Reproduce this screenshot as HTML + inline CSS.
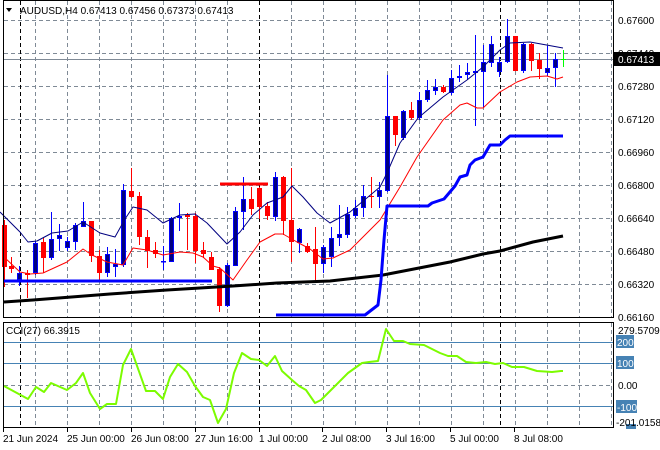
<!DOCTYPE html>
<html><head><meta charset="utf-8"><style>
html,body{margin:0;padding:0;background:#fff;}
svg{display:block;font-family:"Liberation Sans",sans-serif;}
</style></head><body>
<svg id="s" width="660" height="450" xmlns="http://www.w3.org/2000/svg">
<rect width="660" height="450" fill="#fff"/>
<g id="grid"></g>
<g id="cand"></g>
<g id="lines"></g>
<rect x="3.5" y="0.5" width="610" height="317" fill="none" stroke="#000"/>
<rect x="3.5" y="322.5" width="610" height="105" fill="none" stroke="#000"/>
<text x="20" y="14" font-size="10" fill="#000">AUDUSD,H4  0.67413 0.67456 0.67373 0.67413</text>
<polygon points="6,8 12,8 9,12" fill="#000"/>
<g font-size="10" fill="#000">
<text x="618" y="24">0.67600</text>
<text x="618" y="57">0.67440</text>
<text x="618" y="90">0.67280</text>
<text x="618" y="123">0.67120</text>
<text x="618" y="156">0.66960</text>
<text x="618" y="189">0.66800</text>
<text x="618" y="222">0.66640</text>
<text x="618" y="255">0.66480</text>
<text x="618" y="288">0.66320</text>
<text x="618" y="321">0.66160</text>
</g>
<rect x="614" y="52" width="46" height="14" fill="#000"/>
<text x="618" y="63" font-size="10" fill="#fff">0.67413</text>
<text x="6" y="334" font-size="10" fill="#000">CCI(27) 66.3915</text>
<g font-size="10">
<text x="618" y="334" fill="#000">279.5709</text>
<rect x="616" y="335" width="18" height="13" fill="#4682b4"/><text x="617" y="346" fill="#fff">200</text>
<rect x="616" y="356" width="18" height="13" fill="#4682b4"/><text x="617" y="367" fill="#fff">100</text>
<text x="618" y="389" fill="#000">0.00</text>
<rect x="616" y="400" width="21" height="13" fill="#4682b4"/><text x="617" y="411" fill="#fff">-100</text>
<rect x="626" y="424" width="10" height="5" fill="#4682b4"/>
<text x="616" y="426" fill="#000">-201.0158</text>
</g>
<g font-size="10" fill="#000">
<text x="3" y="442">21 Jun 2024</text>
<text x="67" y="442">25 Jun 00:00</text>
<text x="131" y="442">26 Jun 08:00</text>
<text x="195" y="442">27 Jun 16:00</text>
<text x="259" y="442">1 Jul 00:00</text>
<text x="322" y="442">2 Jul 08:00</text>
<text x="386" y="442">3 Jul 16:00</text>
<text x="450" y="442">5 Jul 00:00</text>
<text x="514" y="442">8 Jul 08:00</text>
</g>
</svg>
<script>
var NS="http://www.w3.org/2000/svg";
function el(p,t,a){var e=document.createElementNS(NS,t);for(var k in a)e.setAttribute(k,a[k]);document.getElementById(p).appendChild(e);return e;}
var hy=[20,53,86,119,152,185,218,251,284,317];
hy.forEach(function(y){el("grid","line",{x1:4,x2:613,y1:y+.5,y2:y+.5,stroke:"#7f8a96","stroke-dasharray":"4,3"});});
[342,363,406].forEach(function(y){el("grid","line",{x1:4,x2:613,y1:y+.5,y2:y+.5,stroke:"#4682b4"});});
el("grid","line",{x1:4,x2:613,y1:385.5,y2:385.5,stroke:"#7f8a96","stroke-dasharray":"4,3"});
for(var x=35;x<613;x+=32){
 if(x==259||x==499) continue;
 el("grid","line",{x1:x+.5,x2:x+.5,y1:1,y2:317,stroke:"#7f8a96","stroke-dasharray":"4,3"});
 el("grid","line",{x1:x+.5,x2:x+.5,y1:323,y2:428,stroke:"#7f8a96","stroke-dasharray":"4,3"});
}
[20,259,500].forEach(function(x){
 el("grid","line",{x1:x+.5,x2:x+.5,y1:1,y2:317,stroke:"#000","stroke-dasharray":"4,3"});
 el("grid","line",{x1:x+.5,x2:x+.5,y1:323,y2:428,stroke:"#000","stroke-dasharray":"4,3"});
});
el("grid","line",{x1:4,x2:613,y1:59.5,y2:59.5,stroke:"#7f8a96"});
[3,67,131,195,259,322,386,450,514].forEach(function(x){el("grid","line",{x1:x+.5,x2:x+.5,y1:428,y2:432,stroke:"#000"});});
var C=[[4,225,267,220,287,'r'],[11,266,269,257,273,'r'],[19,273,280,266,286,'b'],[27,273,275,270,298,'r'],[35,243,273,241,275,'b'],[43,242,258,238,273,'r'],[51,239,258,212,260,'b'],[59,235,239,224,251,'b'],[67,241,248,237,251,'b'],[75,225,242,223,250,'b'],[83,221,227,202,227,'b'],[91,221,256,221,262,'r'],[99,256,273,250,280,'r'],[107,254,273,247,277,'b'],[115,264,267,249,277,'b'],[123,190,265,184,267,'b'],[131,191,197,168,198,'r'],[139,196,237,192,245,'r'],[147,237,251,230,268,'r'],[155,250,254,242,258,'r'],[163,261,262,246,270,'b'],[171,218,262,217,262,'b'],[179,216,218,203,231,'b'],[187,215,217,213,250,'r'],[195,216,251,213,263,'r'],[203,250,254,242,258,'r'],[211,257,270,252,270,'r'],[219,269,306,267,312,'r'],[227,265,306,263,307,'b'],[235,211,266,207,266,'b'],[243,199,212,177,230,'b'],[251,199,209,187,215,'r'],[259,188,207,187,219,'r'],[267,206,216,202,220,'r'],[275,177,217,172,221,'b'],[283,177,221,176,235,'r'],[291,220,242,168,262,'r'],[299,229,243,228,253,'b'],[307,246,252,243,253,'r'],[315,249,264,227,282,'r'],[323,247,264,245,273,'b'],[331,238,257,227,267,'b'],[339,234,238,205,246,'b'],[347,214,235,207,238,'b'],[355,208,216,200,218,'b'],[363,196,208,185,217,'b'],[371,196,197,177,208,'r'],[379,190,197,182,208,'b'],[387,116,191,75,192,'b'],[395,116,135,116,146,'r'],[403,111,138,110,140,'b'],[411,110,118,102,120,'r'],[419,100,118,92,120,'b'],[427,90,100,80,102,'b'],[435,87,91,79,95,'b'],[443,87,92,85,93,'r'],[451,78,93,70,95,'b'],[459,76,78,65,82,'b'],[467,72,75,63,80,'b'],[475,71,73,35,126,'b'],[483,62,72,45,108,'b'],[491,44,63,36,67,'b'],[499,62,72,57,77,'b'],[507,36,62,19,63,'b'],[515,36,71,36,71,'r'],[523,44,71,43,73,'b'],[531,44,61,43,71,'r'],[539,60,69,53,79,'r'],[547,68,73,46,76,'b'],[555,59,68,53,87,'b']];
C.forEach(function(c){
 var col=c[5]=='r'?'#ff0000':'#0000ff';
 el("cand","line",{x1:c[0]+.5,x2:c[0]+.5,y1:c[3],y2:c[4],stroke:col});
 var h=Math.max(1,c[2]-c[1]);
 if(c[5]=='r') el("cand","rect",{x:c[0]-2,y:c[1],width:5,height:h,fill:'#ff0000'});
 else el("cand","rect",{x:c[0]-2+.5,y:c[1]+.5,width:4,height:Math.max(0.5,h-1),fill:'#000080',stroke:'#0000ff'});
});
el("cand","line",{x1:563.5,x2:563.5,y1:50,y2:67,stroke:"#00ff00"});
el("cand","line",{x1:561,x2:566,y1:59.5,y2:59.5,stroke:"#00ff00"});
function pl(pts,col,w){el("lines","polyline",{points:pts,fill:"none",stroke:col,"stroke-width":w,"stroke-linejoin":"round"});}
pl("0,212 20,232 28,242 37,241 52,233 68,231 83,222 100,233 115,237 125,219 133,207 147,210 163,223 180,215 195,214 207,223 227,244 240,232 253,215 267,203 283,197 292,186 303,197 317,213 330,223 350,212 380,187 387,173 400,143 418,118 443,97 467,80 483,67 500,50 510,43 530,42 563,48","#000080",1);
pl("4,257 20,272 30,274 43,273 67,262 83,249 92,255 107,262 123,265 133,248 147,250 163,255 180,252 193,253 203,257 213,266 220,268 233,280 247,260 260,242 275,234 283,234 297,242 310,249 323,259 333,258 350,250 380,220 400,187 417,157 443,120 460,105 467,103 477,108 483,108 500,92 517,82 530,77 547,76 557,79 563,77","#ff0000",1);
pl("4,302 33,300 110,294 167,290 233,286 277,283 330,281 383,275 450,262 483,254 500,251 533,242 563,236","#000",3);
pl("4,281 212,281","#0000ff",3);
pl("276,315 365,315 378,305 381,280 384,240 387,206 428,206 432,203 444,199 455,186 460,177 467,175 470,165 475,160 483,157 490,145 500,145 505,140 510,136 563,136","#0000ff",3);
pl("220,184 268,184","#ff0000",3);
pl("4,386 28,399 36,387 44,392 51,383 67,390 76,383 83,373 90,393 100,409 107,404 116,404 123,365 131,349 146,391 155,391 163,399 170,377 178,364 187,372 195,386 203,397 210,400 218,423 226,409 234,373 242,353 251,359 259,360 267,366 275,356 282,371 292,380 299,386 306,390 315,403 321,400 331,390 348,373 362,363 369,362 378,361 386,329 394,341 403,341 410,344 424,345 440,353 448,356 457,356 466,362 476,363 486,362 495,364 503,363 512,367 524,367 537,371 552,372 561,371 563,371","#7cfc00",2);
</script>
</body></html>
